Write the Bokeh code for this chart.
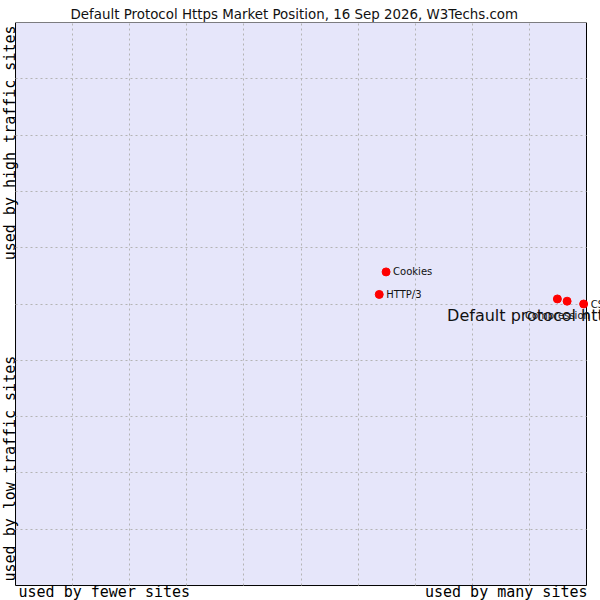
import math
from bokeh.plotting import figure
from bokeh.models import Label, FixedTicker, ColumnDataSource, BoxAnnotation
from bokeh.embed import file_html
from bokeh.resources import INLINE

# ---- data (market position, 0-10 scale on each axis) ----
names = ["Cookies", "HTTP/3", "Compression", "Default protocol https", "CSS"]
usage_x = [6.49, 6.37, 9.49, 9.66, 9.95]      # used by fewer -> many sites
traffic_y = [5.57, 5.17, 5.09, 5.05, 5.00]    # low -> high traffic sites
grid_ticks = [1, 2, 3, 4, 5, 6, 7, 8, 9]
scale_min, scale_max = 0, 10

title = "Default Protocol Https Market Position, 16 Sep 2026, W3Techs.com"

# the frame is a little larger than the chart box, so labels can sit around it
p = figure(width=600, height=600,
           x_range=(-0.263, 10.245), y_range=(-0.266, 10.0),
           output_backend="svg", toolbar_location=None,
           min_border_left=0, min_border_right=0,
           min_border_top=22, min_border_bottom=0,
           background_fill_color="white", border_fill_color="white")

p.title.text = title
p.title.align = "left"
p.title.offset = 70
p.title.vertical_align = "middle"
p.title.standoff = 0
p.title.text_font = "DejaVu Sans"
p.title.text_font_size = "13.4px"
p.title.text_font_style = "normal"
p.title.text_color = "#111111"

p.xaxis.visible = False
p.yaxis.visible = False
p.outline_line_color = None

# chart box
p.add_layout(BoxAnnotation(left=scale_min, right=scale_max, bottom=scale_min, top=scale_max,
                           fill_color="#E6E6FA", fill_alpha=1.0,
                           line_color="black", line_width=1, line_alpha=1.0,
                           level="image"))

p.xgrid.ticker = FixedTicker(ticks=grid_ticks)
p.ygrid.ticker = FixedTicker(ticks=grid_ticks)
for g in (p.xgrid, p.ygrid):
    g.grid_line_color = "#b4b4b4"
    g.grid_line_dash = "2 3"
    g.grid_line_width = 1
    g.cross_bounds = (scale_min, scale_max)

src = ColumnDataSource(dict(x=usage_x, y=traffic_y, name=names))
p.scatter("x", "y", source=src, marker="circle", size=8,
          fill_color="red", line_color="red")

# point labels
FONT = "DejaVu Sans"
for i, nm in enumerate(names):
    if nm == "Compression":
        lab = Label(x=usage_x[i], y=traffic_y[i], text=nm, text_font=FONT,
                    text_font_size="10px", text_align="center",
                    text_baseline="middle", y_offset=-17, text_color="#111111")
    elif nm == "Default protocol https":
        lab = Label(x=usage_x[i], y=traffic_y[i], text=nm, text_font=FONT,
                    text_font_size="16px", text_align="left",
                    text_baseline="middle", x_offset=-120, y_offset=-14,
                    text_color="#111111")
    else:
        lab = Label(x=usage_x[i], y=traffic_y[i], text=nm, text_font=FONT,
                    text_font_size="10px", text_align="left",
                    text_baseline="middle", x_offset=7, text_color="#111111")
    p.add_layout(lab)

MONO = "DejaVu Sans Mono"
p.add_layout(Label(x=scale_min, y=scale_min, text="used by fewer sites", text_font=MONO,
                   text_font_size="15px", text_align="left", text_baseline="alphabetic",
                   x_offset=3, y_offset=-6, text_color="black"))
p.add_layout(Label(x=scale_max, y=scale_min, text="used by many sites", text_font=MONO,
                   text_font_size="15px", text_align="right", text_baseline="alphabetic",
                   x_offset=1, y_offset=-6, text_color="black"))
p.add_layout(Label(x=scale_min, y=scale_max, text="used by high traffic sites", text_font=MONO,
                   text_font_size="15px", text_align="right", text_baseline="alphabetic",
                   angle=math.pi / 2, x_offset=-6, y_offset=-3, text_color="black"))
p.add_layout(Label(x=scale_min, y=scale_min, text="used by low traffic sites", text_font=MONO,
                   text_font_size="15px", text_align="left", text_baseline="alphabetic",
                   angle=math.pi / 2, x_offset=-6, y_offset=4, text_color="black"))

open("out.html", "w").write(file_html(p, INLINE))
